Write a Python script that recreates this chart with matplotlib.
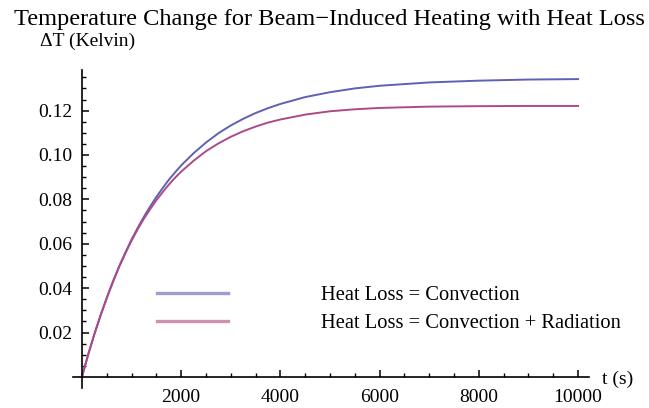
import matplotlib
matplotlib.use('Agg')
import matplotlib.pyplot as plt
from matplotlib.lines import Line2D
from matplotlib.ticker import FixedLocator, FormatStrFormatter

# Time samples (s) and temperature rise (K) for the two heat-loss models
time_s = [0, 125, 250, 375, 500, 625, 750, 875, 1000, 1125, 1250, 1375,
          1500, 1625, 1750, 1875, 2000, 2250, 2500, 2750, 3000, 3250, 3500,
          3750, 4000, 4500, 5000, 5500, 6000, 7000, 8000, 9000, 10000]
dt_convection = [0.0, 0.0100, 0.0192, 0.0277, 0.0356, 0.0430, 0.0498, 0.0560,
                 0.0619, 0.0672, 0.0722, 0.0768, 0.0811, 0.0850, 0.0888,
                 0.0921, 0.0953, 0.1008, 0.1056, 0.1098, 0.1133, 0.1163,
                 0.1189, 0.1211, 0.1230, 0.1261, 0.1283, 0.1300, 0.1312,
                 0.1327, 0.1335, 0.1340, 0.1342]
dt_conv_rad = [0.0, 0.0100, 0.0192, 0.0277, 0.0355, 0.0428, 0.0496, 0.0557,
               0.0614, 0.0666, 0.0713, 0.0756, 0.0796, 0.0832, 0.0866,
               0.0897, 0.0925, 0.0974, 0.1017, 0.1052, 0.1082, 0.1107,
               0.1128, 0.1146, 0.1160, 0.1182, 0.1197, 0.1206, 0.1212,
               0.1218, 0.1220, 0.1221, 0.1221]

series_labels = ['Heat Loss = Convection', 'Heat Loss = Convection + Radiation']
x_major = [2000, 4000, 6000, 8000, 10000]
y_major = [0.02, 0.04, 0.06, 0.08, 0.10, 0.12]

SERIF = ['Liberation Serif', 'DejaVu Serif']
BLUE = '#6060b4'
RED = '#ac4a88'


def style_axes(ax):
    """Mathematica-style axes crossing at the origin, ticks pointing inward."""
    ax.spines['left'].set_position(('data', 0))
    ax.spines['bottom'].set_position(('data', 0))
    ax.spines['right'].set_visible(False)
    ax.spines['top'].set_visible(False)
    for side in ('left', 'bottom'):
        ax.spines[side].set_linewidth(1.2)

    ax.set_xlim(-180, 10220)
    ax.set_ylim(-0.005, 0.1383)

    ax.xaxis.set_major_locator(FixedLocator(x_major))
    ax.xaxis.set_minor_locator(FixedLocator(
        [t for t in range(500, 10001, 500) if t not in x_major]))
    ax.yaxis.set_major_locator(FixedLocator(y_major))
    ax.yaxis.set_minor_locator(FixedLocator(
        [k * 0.005 for k in range(1, 28) if k % 4 != 0]))
    ax.yaxis.set_major_formatter(FormatStrFormatter('%.2f'))

    ax.tick_params(which='major', direction='in', length=5, width=1.1,
                   labelsize=14, pad=7, colors='black')
    ax.tick_params(which='minor', direction='in', length=3, width=1.0)
    ax.tick_params(axis='x', which='major', pad=9)
    for lbl in ax.get_xticklabels() + ax.get_yticklabels():
        lbl.set_family(SERIF)


def main():
    fig = plt.figure(figsize=(6.49, 4.08), dpi=100)
    ax = fig.add_axes([73 / 649, 1 - 388 / 408, 516 / 649, 318 / 408])

    ax.plot(time_s, dt_convection, color=BLUE, lw=1.4)
    ax.plot(time_s, dt_conv_rad, color=RED, lw=1.4)
    style_axes(ax)

    handles = [Line2D([], [], color='#9d9dd4', lw=2.4),
               Line2D([], [], color='#cf90b0', lw=2.4)]
    fig.legend(handles, series_labels, loc='center left',
               bbox_to_anchor=(157 / 649, 1 - 309.5 / 408),
               frameon=False, handlelength=3.45, handletextpad=4.55,
               labelspacing=0.4, borderpad=0, borderaxespad=0,
               prop={'family': SERIF, 'size': 14.8})

    fig.text(329 / 649, 1 - 19 / 408,
             'Temperature Change for Beam\u2212Induced Heating with Heat Loss',
             ha='center', va='center', family=SERIF, fontsize=17.6)
    fig.text(40 / 649, 1 - 41 / 408, '\u0394T (Kelvin)', ha='left',
             va='center', family=SERIF, fontsize=14)
    fig.text(602 / 649, 1 - 379 / 408, 't (s)', ha='left', va='center',
             family=SERIF, fontsize=14)

    fig.savefig('out.png', dpi=100)


if __name__ == '__main__':
    main()
